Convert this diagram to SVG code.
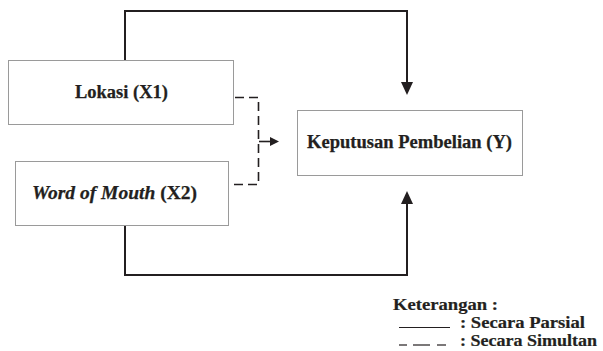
<svg xmlns="http://www.w3.org/2000/svg" width="603" height="351" viewBox="0 0 603 351">
<style>
.box{fill:#fff;stroke:#9a9a9a;stroke-width:1}
.lbl{font-family:"Liberation Serif","DejaVu Serif","Times New Roman",Times,serif;font-weight:bold;font-size:18.5px;fill:#231f20;stroke:#231f20;stroke-width:0.25}
.solid{fill:none;stroke:#231f20;stroke-width:2}
.dash{fill:none;stroke:#231f20;stroke-width:1.6;stroke-dasharray:9 5}
.leg{font-family:"Liberation Serif","DejaVu Serif","Times New Roman",Times,serif;font-weight:bold;font-size:16px;fill:#231f20;stroke:#231f20;stroke-width:0.2}
</style>
<rect width="603" height="351" fill="#fff"/>
<g id="connectors">
<path class="solid" d="M125,60 V11 H407 V84"/>
<path d="M401,82 L413,82 L407,95 Z" fill="#231f20"/>
<path class="solid" d="M125,226 V275 H407 V202"/>
<path d="M401,204 L413,204 L407,191 Z" fill="#231f20"/>
<path class="dash" d="M235,97.5 H258.5 V184.5 H230"/>
<path d="M259,141.5 H272" fill="none" stroke="#231f20" stroke-width="1.6"/>
<path d="M270,137 L279,141.5 L270,146 Z" fill="#231f20"/>
</g>
<g id="x1">
<rect class="box" x="8.5" y="60.5" width="225" height="64"/>
<text class="lbl" x="75" y="97.5" textLength="93" lengthAdjust="spacingAndGlyphs">Lokasi (X1)</text>
</g>
<g id="x2">
<rect class="box" x="15.5" y="161.5" width="213" height="64"/>
<text class="lbl" x="32" y="198.5" textLength="165" lengthAdjust="spacingAndGlyphs"><tspan font-style="italic">Word of Mouth</tspan> (X2)</text>
</g>
<g id="y">
<rect class="box" x="297.5" y="110.5" width="225" height="65"/>
<text class="lbl" x="307" y="147.5" textLength="205" lengthAdjust="spacingAndGlyphs">Keputusan Pembelian (Y)</text>
</g>
<g id="legend">
<text class="leg" x="393" y="310" textLength="105" lengthAdjust="spacingAndGlyphs">Keterangan :</text>
<line x1="399" y1="327.5" x2="450" y2="327.5" stroke="#231f20" stroke-width="1.2"/>
<text class="leg" x="460" y="328" textLength="125" lengthAdjust="spacingAndGlyphs">: Secara Parsial</text>
<line x1="399" y1="345" x2="407" y2="345" stroke="#231f20" stroke-width="1.2"/>
<line x1="413" y1="345" x2="430" y2="345" stroke="#231f20" stroke-width="1.2"/>
<line x1="437" y1="345" x2="446" y2="345" stroke="#231f20" stroke-width="1.2"/>
<text class="leg" x="460" y="346" textLength="137" lengthAdjust="spacingAndGlyphs">: Secara Simultan</text>
</g>
</svg>
